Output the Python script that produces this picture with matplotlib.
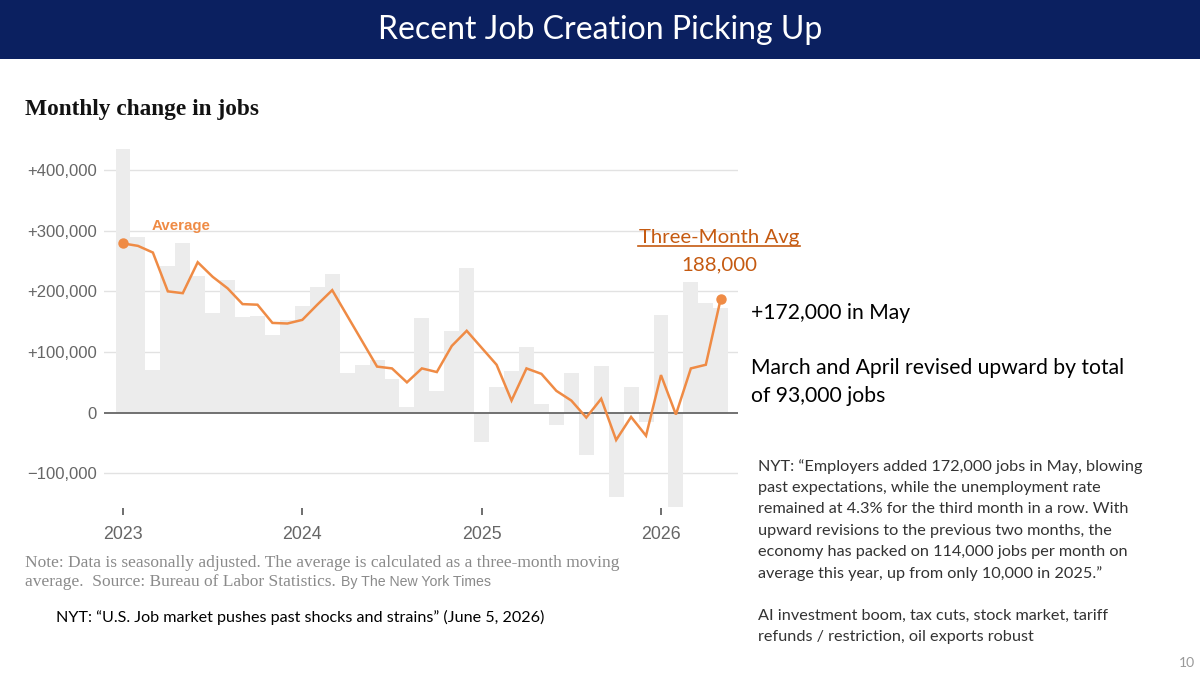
import matplotlib
matplotlib.use("Agg")
import matplotlib.pyplot as plt
from matplotlib.patches import Rectangle
from matplotlib.lines import Line2D
import numpy as np
import pandas as pd

# monthly change in jobs, thousands
months = pd.date_range("2023-01-01", "2026-05-01", freq="MS")
jobs = [434, 290, 70, 242, 280, 225, 164, 219, 157, 159, 128, 153,
        176, 207, 229, 65, 78, 87, 55, 10, 156, 35, 135, 238,
        -48, 43, 68, 109, 14, -20, 65, -70, 77, -139, 42, -16,
        161, -156, 215, 180, 172]
avg3 = [279, 275, 264, 200, 197, 248, 224, 205, 179, 178, 148, 147,
        153, 178, 202, 160, 118, 76, 73, 50, 73, 67, 110, 135,
        107, 79, 20, 73, 64, 36, 20, -8, 23, -45, -7, -38,
        62, -3, 73, 79, 188]
ytick_vals = [400, 300, 200, 100, 0, -100]
ytick_labels = ["+400,000", "+300,000", "+200,000", "+100,000", "0", "\u2212100,000"]

W, H = 1200, 673
ORANGE = "#ef8b45"
DARK_ORANGE = "#c55a11"
SANS = ["Lato", "DejaVu Sans"]
NYT_SANS = ["Liberation Sans", "DejaVu Sans"]
NYT_SERIF = ["Liberation Serif", "DejaVu Serif"]

def px(x, y):
    return x / W, 1 - y / H

fig = plt.figure(figsize=(W / 100, H / 100), dpi=100)
fig.patch.set_facecolor("white")

# title banner
fig.add_artist(Rectangle((0, 1 - 59 / H), 1, 59 / H, transform=fig.transFigure,
                         facecolor="#0b2060", edgecolor="none"))
fig.text(*px(600, 30), "Recent Job Creation Picking Up", color="white",
         fontsize=23, family=SANS, ha="center", va="center")

fig.text(*px(25, 110), "Monthly change in jobs", fontsize=16.8, weight="bold",
         family=NYT_SERIF, color="#121212", ha="left", va="center")

# chart axes (pixel box 104..738 x 140..508)
ax = fig.add_axes([104 / W, 1 - 508 / H, (738 - 104) / W, (508 - 140) / H])
x = np.arange(len(months))
ax.bar(x, jobs, width=1.0, color="#ececec", edgecolor="none", zorder=1, clip_on=False)
for v in ytick_vals:
    if v == 0:
        ax.axhline(0, color="#666666", lw=1.3, zorder=2)
    else:
        ax.axhline(v, color="#e2e2e2", lw=1.0, zorder=0.5)
ax.plot(x, avg3, color=ORANGE, lw=1.8, zorder=3, solid_joinstyle="miter")
ax.plot([x[0], x[-1]], [avg3[0], avg3[-1]], "o", color=ORANGE, ms=6.5, zorder=4)

ax.set_xlim(-1.271, 41.154)
ax.set_ylim(-157.1, 449.5)
for s in ax.spines.values():
    s.set_visible(False)

ax.set_yticks(ytick_vals)
ax.set_yticklabels(ytick_labels)
ax.tick_params(axis="y", length=0, pad=5, labelsize=12, labelcolor="#666666")
for t in ax.get_yticklabels():
    t.set_family(NYT_SANS)

jan = [i for i, m in enumerate(months) if m.month == 1]
ax.set_xticks(jan)
ax.set_xticklabels([str(months[i].year) for i in jan])
ax.tick_params(axis="x", length=5, width=1.2, color="#555555", pad=8,
               labelsize=12.8, labelcolor="#666666")
for t in ax.get_xticklabels():
    t.set_family(NYT_SANS)

ax.text(1.94, 308, "Average", color=ORANGE, fontsize=10.8, weight="bold",
        family=NYT_SANS, ha="left", va="center")

# three-month average callout
fig.text(*px(719, 237), "Three-Month Avg", color=DARK_ORANGE, fontsize=14.7,
         family=SANS, ha="center", va="center")
fig.add_artist(Line2D([638 / W, 800 / W], [1 - 246 / H] * 2, color=DARK_ORANGE,
                      lw=1.2, transform=fig.transFigure))
fig.text(*px(719, 265), "188,000", color=DARK_ORANGE, fontsize=14.7,
         family=SANS, ha="center", va="center")

# notes under chart
fig.text(*px(25, 563), "Note: Data is seasonally adjusted. The average is calculated as a three-month moving",
         color="#8a8a8a", fontsize=12.5, family=NYT_SERIF, ha="left", va="center")
fig.text(*px(25, 582), "average.  Source: Bureau of Labor Statistics.",
         color="#8a8a8a", fontsize=12.5, family=NYT_SERIF, ha="left", va="center")
fig.text(*px(341, 582), "By The New York Times", color="#8a8a8a", fontsize=10.2,
         family=NYT_SANS, ha="left", va="center")
fig.text(*px(56, 617), "NYT: \u201cU.S. Job market pushes past shocks and strains\u201d (June 5, 2026)",
         color="black", fontsize=11.65, family=SANS, ha="left", va="center")

# right-hand commentary
fig.text(*px(751, 313), "+172,000 in May", color="black", fontsize=15.2,
         family=SANS, ha="left", va="center")
fig.text(*px(751, 368), "March and April revised upward by total", color="black",
         fontsize=15.2, family=SANS, ha="left", va="center")
fig.text(*px(751, 396), "of 93,000 jobs", color="black", fontsize=15.2,
         family=SANS, ha="left", va="center")

quote = ["NYT: \u201cEmployers added 172,000 jobs in May, blowing",
         "past expectations, while the unemployment rate",
         "remained at 4.3% for the third month in a row. With",
         "upward revisions to the previous two months, the",
         "economy has packed on 114,000 jobs per month on",
         "average this year, up from only 10,000 in 2025.\u201d",
         "",
         "AI investment boom, tax cuts, stock market, tariff",
         "refunds / restriction, oil exports robust"]
for k, line in enumerate(quote):
    fig.text(*px(758, 466.7 + 21.3 * k), line, color="#333333", fontsize=11.7,
             family=SANS, ha="left", va="center")

fig.text(*px(1195, 663), "10", color="#999999", fontsize=10, family=SANS,
         ha="right", va="center")

fig.savefig("out.png", dpi=100)
